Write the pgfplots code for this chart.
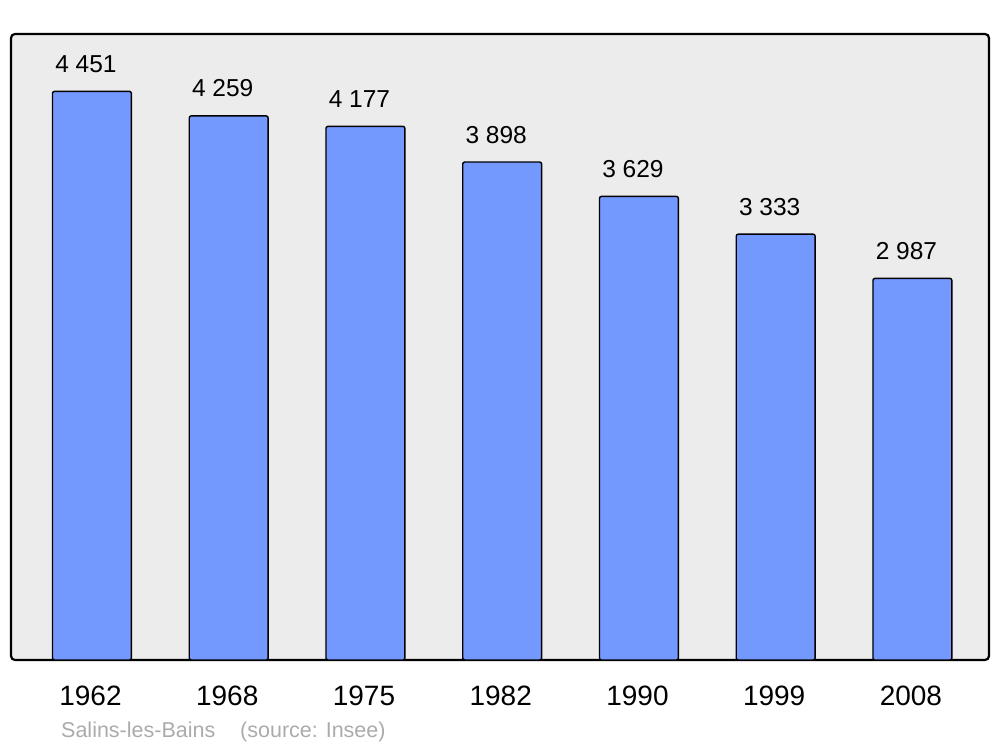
\documentclass[border=0pt]{standalone}
\usepackage{pgfplots}
\pgfplotsset{compat=1.18}
\usepackage{fontspec}
\setmainfont{Liberation Sans}
\definecolor{barblue}{HTML}{7399FF}
\definecolor{panel}{HTML}{ECECEC}
\definecolor{capgrey}{HTML}{ABABAB}

\begin{document}
\begin{tikzpicture}[x=1pt,y=1pt]
\path[use as bounding box] (0,0) rectangle (1000,747);
\begin{axis}[
    at={(11pt,87pt)}, anchor=south west,
    scale only axis,
    width=978pt, height=626pt,
    ybar,
    bar width=0.577,
    xmin=-0.592, xmax=6.56,
    ymin=0, ymax=4900,
    axis line style={draw=none},
    axis background/.style={fill=panel, draw=black, line width=2.2pt, rounded corners=4pt},
    xtick=data,
    xticklabels={1962,1968,1975,1982,1990,1999,2008},
    ytick=\empty,
    major tick length=0pt,
    xticklabel style={font=\fontsize{28}{33}\selectfont, anchor=base, yshift=-45pt, xshift=-1.5pt},
    /pgf/number format/.cd, 1000 sep={\ }, assume math mode=true,
    /pgfplots/.cd,
    nodes near coords,
    nodes near coords style={font=\fontsize{24.5}{29}\selectfont, anchor=base, yshift=19pt, xshift=-6pt},
    clip=false,
    ]
\addplot[fill=barblue, draw=black, line width=1.4pt, rounded corners=2pt]
  coordinates {(0,4451) (1,4259) (2,4177) (3,3898) (4,3629) (5,3333) (6,2987)};
\end{axis}
\node[anchor=base west, inner sep=0pt, text=capgrey, font=\fontsize{21.5}{25}\selectfont] at (61,10) {Salins-les-Bains};
\node[anchor=base west, inner sep=0pt, text=capgrey, font=\fontsize{21.5}{25}\selectfont] at (240,10) {(source: Insee)};
\end{tikzpicture}
\end{document}
